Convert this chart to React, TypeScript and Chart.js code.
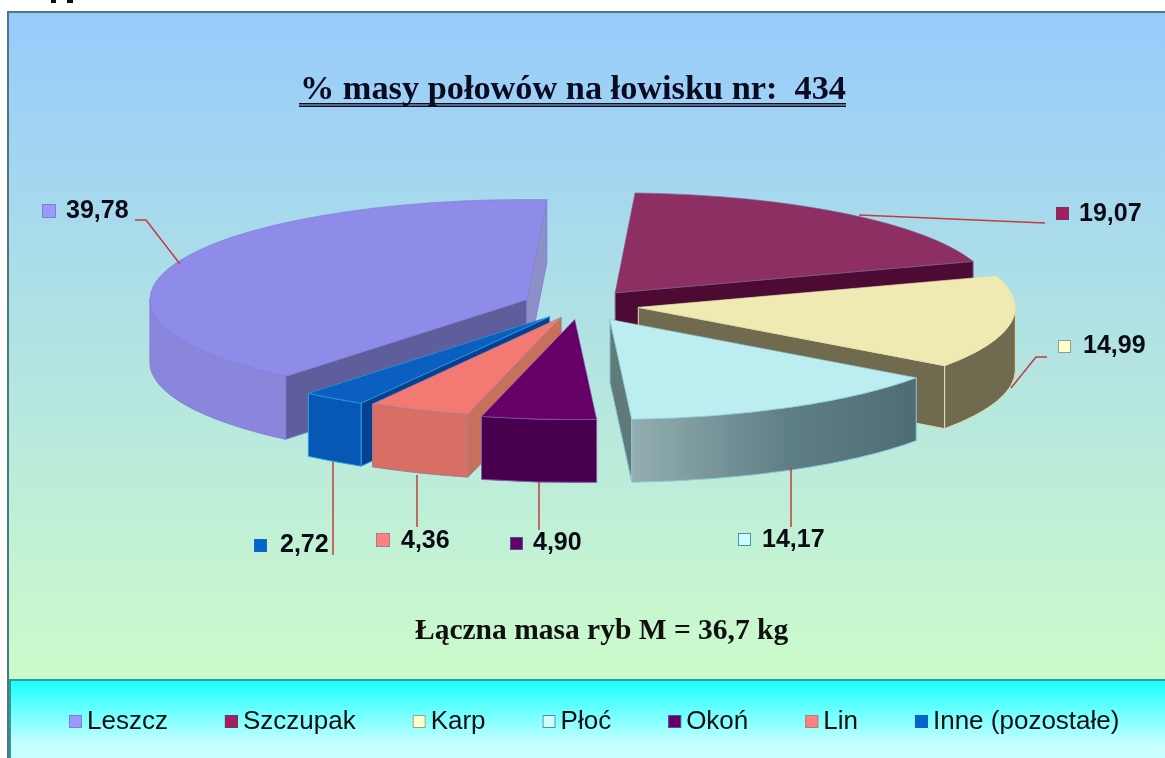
import React, { useEffect, useRef } from "react";
import { Chart, registerables } from "chart.js";

Chart.register(...registerables);

// ---- data ----
const categories = ["Leszcz", "Szczupak", "Karp", "Płoć", "Okoń", "Lin", "Inne (pozostałe)"];
const values = [39.78, 19.07, 14.99, 14.17, 4.9, 4.36, 2.72];
const chartTitle = "% masy połowów na łowisku nr:  434";
const footerText = "Łączna masa ryb M = 36,7 kg";

// ---- styles ----
const topColors = ["#8E8CE8", "#8E2F63", "#EFE9B2", "#BCEDF0", "#660066", "#F27A73", "#0A5FC0"];
const edgeColors = ["#8080D8", "#7A5A90", "#E0E0B0", "#8FC8D8", "#8060B0", "#A08098", "#30A0E0"];
const outerWallColors = ["#8A86DC", "#5A1038", "#706B4E", "#6F8C90", "#48004E", "#D86E64", "#0558B4"];
const startWallColors = ["#5E5E9C", "#4D0A33", "#706B4E", "#5F7A78", "#48004E", "#C8705A", "#064090"];
const endWallColors = ["#8F8FC8", "#4D0A33", "#706B4E", "#5F7A78", "#48004E", "#C8705A", "#064090"];
const markerColors = ["#9999FF", "#A02060", "#FFFFCC", "#CCFFFF", "#660066", "#FF8080", "#0066CC"];
const markerBorders = ["#8080C0", "#803060", "#90A090", "#5090A0", "#5050A0", "#A08080", "#2060C0"];
const leaderColor = "#C43C3C";

// ---- layout ----
const W = 1165;
const H = 758;
const pieRadius = 377;
const squash = 100 / 377;
const wallHeight = 63;
const rotationDeg = 219.8;
const explode = [57, 58, 59, 62, 55, 50, 53];
const labelLayout = [
  { mx: 42, my: 204, ms: 14, tx: 66, ty: 211, leader: [[135, 220], [146, 220], [180, 264]] },
  { mx: 1056, my: 207, ms: 13, tx: 1079, ty: 214, leader: [[1045, 223], [859, 215]] },
  { mx: 1058, my: 340, ms: 13, tx: 1083, ty: 346, leader: [[1047, 357], [1036, 357], [1011, 388]] },
  { mx: 738, my: 533, ms: 13, tx: 762, ty: 540, leader: [[791, 468], [791, 527]] },
  { mx: 510, my: 537, ms: 13, tx: 533, ty: 543, leader: [[539, 482], [539, 530]] },
  { mx: 376, my: 533, ms: 14, tx: 401, ty: 541, leader: [[417, 475], [417, 527]] },
  { mx: 254, my: 539, ms: 13, tx: 280, ty: 545, leader: [[333, 462], [333, 555]] },
];

const formatValue = (v: number) => v.toFixed(2).replace(".", ",");
const TWO_PI = Math.PI * 2;

const backdrop = {
  id: "backdrop",
  beforeDraw(chart: any) {
    const c = chart.ctx;
    c.save();
    c.fillStyle = "#ffffff";
    c.fillRect(0, 0, W, H);
    // the cut-off strokes of a heading above the frame
    c.fillStyle = "#101010";
    c.fillRect(51, 0, 5, 3);
    c.fillRect(67, 0, 6, 3);
    const g = c.createLinearGradient(0, 12, 0, 650);
    g.addColorStop(0, "#97CBFC");
    g.addColorStop(1, "#CAF9CC");
    c.fillStyle = g;
    c.fillRect(7, 11, W - 7, H - 11);
    c.strokeStyle = "#4A7A80";
    c.lineWidth = 2;
    c.beginPath();
    c.moveTo(8, H);
    c.lineTo(8, 12);
    c.lineTo(W, 12);
    c.stroke();
    const lg = c.createLinearGradient(0, 681, 0, 745);
    lg.addColorStop(0, "#19FFFF");
    lg.addColorStop(1, "#C8FFFF");
    c.fillStyle = lg;
    c.fillRect(10, 680, W - 10, H - 680);
    c.strokeStyle = "#2E9A9A";
    c.beginPath();
    c.moveTo(10, H);
    c.lineTo(10, 680);
    c.lineTo(W, 680);
    c.stroke();
    c.restore();
  },
};

const pie3d = {
  id: "pie3d",
  afterUpdate(chart: any) {
    // pull every slice out of the pie along its own middle angle
    chart.getDatasetMeta(0).data.forEach((arc: any, i: number) => {
      const mid = (arc.startAngle + arc.endAngle) / 2;
      arc.x += Math.cos(mid) * explode[i];
      arc.y += Math.sin(mid) * explode[i];
    });
  },
  beforeDatasetsDraw(chart: any) {
    const c = chart.ctx;
    const cy = (chart.chartArea.top + chart.chartArea.bottom) / 2;
    const arcs = chart.getDatasetMeta(0).data.map((arc: any, i: number) => ({ arc, i }));
    arcs.sort(
      (p: any, q: any) =>
        Math.sin((p.arc.startAngle + p.arc.endAngle) / 2) - Math.sin((q.arc.startAngle + q.arc.endAngle) / 2),
    );
    c.save();
    c.lineWidth = 1;
    for (const { arc, i } of arcs) {
      const x = arc.x;
      const y = cy + (arc.y - cy) * squash;
      const r = arc.outerRadius;
      const ry = r * squash;
      let a = arc.startAngle % TWO_PI;
      if (a < 0) a += TWO_PI;
      const b = a + (arc.endAngle - arc.startAngle);
      c.strokeStyle = edgeColors[i];
      const cut = (t: number, color: string) => {
        const px = x + Math.cos(t) * r;
        const py = y + Math.sin(t) * ry;
        c.fillStyle = color;
        c.beginPath();
        c.moveTo(x, y);
        c.lineTo(px, py);
        c.lineTo(px, py + wallHeight);
        c.lineTo(x, y + wallHeight);
        c.closePath();
        c.fill();
        c.stroke();
      };
      if (Math.cos(a) < 0) cut(a, startWallColors[i]);
      if (Math.cos(b) > 0) cut(b, endWallColors[i]);
      for (const base of [0, TWO_PI]) {
        const t0 = Math.max(a, base);
        const t1 = Math.min(b, base + Math.PI);
        if (t1 <= t0) continue;
        let fill: any = outerWallColors[i];
        if (i === 3) {
          const g = c.createLinearGradient(x + Math.cos(t1) * r, 0, x + Math.cos(t0) * r, 0);
          g.addColorStop(0, "#92AEB0");
          g.addColorStop(0.55, "#5F7F86");
          g.addColorStop(1, "#4F6C74");
          fill = g;
        }
        c.fillStyle = fill;
        c.beginPath();
        c.ellipse(x, y, r, ry, 0, t0, t1);
        c.ellipse(x, y + wallHeight, r, ry, 0, t1, t0, true);
        c.closePath();
        c.fill();
        c.stroke();
      }
    }
    c.restore();
  },
  beforeDatasetDraw(chart: any) {
    const c = chart.ctx;
    const cy = (chart.chartArea.top + chart.chartArea.bottom) / 2;
    c.save();
    c.translate(0, cy);
    c.scale(1, squash);
    c.translate(0, -cy);
  },
  afterDatasetDraw(chart: any) {
    chart.ctx.restore();
  },
};

const annotations = {
  id: "annotations",
  afterDatasetsDraw(chart: any) {
    const c = chart.ctx;
    c.save();
    // leader lines, markers and value labels
    labelLayout.forEach((l, i) => {
      c.strokeStyle = leaderColor;
      c.lineWidth = 1.5;
      c.beginPath();
      l.leader.forEach(([x, y], k) => (k ? c.lineTo(x, y) : c.moveTo(x, y)));
      c.stroke();
      c.fillStyle = markerColors[i];
      c.strokeStyle = markerBorders[i];
      c.lineWidth = 1;
      c.fillRect(l.mx, l.my, l.ms, l.ms);
      c.strokeRect(l.mx + 0.5, l.my + 0.5, l.ms - 1, l.ms - 1);
      c.fillStyle = "#0A0A14";
      c.font = 'bold 25px "Liberation Sans"';
      c.textAlign = "left";
      c.textBaseline = "middle";
      c.fillText(formatValue(values[i]), l.tx, l.ty);
    });
    // title with a double underline
    c.fillStyle = "#0A0A20";
    c.font = 'bold 34.3px "Liberation Serif"';
    c.textBaseline = "alphabetic";
    c.textAlign = "left";
    c.fillText(chartTitle, 300, 99);
    c.fillRect(299, 103, 547, 1.5);
    c.fillRect(299, 105.5, 547, 1.5);
    // footer
    c.font = 'bold 29.5px "Liberation Serif"';
    c.fillStyle = "#101010";
    c.fillText(footerText, 415, 639);
    // legend
    c.font = '26px "Liberation Sans"';
    c.textBaseline = "middle";
    let x = 69;
    categories.forEach((name, i) => {
      c.fillStyle = markerColors[i];
      c.strokeStyle = markerBorders[i];
      c.lineWidth = 1;
      c.fillRect(x, 715, 13, 13);
      c.strokeRect(x + 0.5, 715.5, 12, 12);
      c.fillStyle = "#101010";
      c.fillText(name, x + 18, 722);
      x += 18 + c.measureText(name).width + 57;
    });
    c.restore();
  },
};

export default function App() {
  const ref = useRef<HTMLCanvasElement>(null);
  useEffect(() => {
    const chart = new Chart(ref.current!, {
      type: "pie",
      data: {
        labels: categories,
        datasets: [
          {
            data: values,
            backgroundColor: topColors,
            borderColor: edgeColors,
            borderWidth: 1,
            clip: false,
          } as any,
        ],
      },
      options: {
        responsive: false,
        animation: false,
        events: [],
        rotation: rotationDeg,
        radius: pieRadius,
        layout: { padding: { top: 0, left: 0, right: 5, bottom: 148 } },
        plugins: { legend: { display: false }, tooltip: { enabled: false }, title: { display: false } },
      } as any,
      plugins: [backdrop, pie3d, annotations],
    });
    return () => chart.destroy();
  }, []);
  return (
    <div style={{ position: "absolute", left: 0, top: 0, width: W, height: H }}>
      <canvas ref={ref} width={W} height={H} style={{ display: "block" }} />
    </div>
  );
}
